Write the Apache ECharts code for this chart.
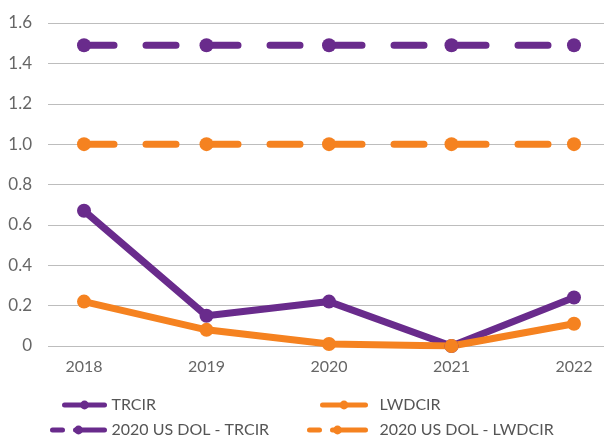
<!DOCTYPE html>
<html><head><meta charset="utf-8">
<script src="https://cdn.jsdelivr.net/npm/echarts@6/dist/echarts.min.js"></script>
<style>html,body{margin:0;padding:0;background:#fff}#c{width:604px;height:437px}</style>
</head><body><div id="c"></div>
<script>
const categories = [2018, 2019, 2020, 2021, 2022];
const trcir = [0.67, 0.15, 0.22, 0.0, 0.24];
const lwdcir = [0.22, 0.08, 0.01, 0.0, 0.11];
const dolTrcir = [1.49, 1.49, 1.49, 1.49, 1.49];
const dolLwdcir = [1.0, 1.0, 1.0, 1.0, 1.0];
const yTicks = [0, 0.2, 0.4, 0.6, 0.8, 1.0, 1.2, 1.4, 1.6];

const PURPLE = '#692b8c', ORANGE = '#f58220';
const pair = arr => categories.map((c, i) => [c, arr[i]]);
function ser(name, arr, color, dashed) {
  return {
    name, type: 'line', data: pair(arr), symbol: 'circle', symbolSize: 14,
    itemStyle: { color },
    lineStyle: { color, width: 7, cap: 'round', type: dashed ? [30, 32] : 'solid' },
    emphasis: { disabled: true }, animation: false
  };
}
function leg(name, left, top, w, pad, dashed) {
  return {
    orient: 'horizontal', left, top, itemWidth: w, itemHeight: 11, padding: 0,
    data: [{ name, lineStyle: { width: 5, cap: 'round', type: dashed ? [10, 13, 40, 10] : 'solid' } }],
    textStyle: { color: '#555', fontSize: 16, lineHeight: 18, padding: [0, 0, 0, pad] }
  };
}
const chart = echarts.init(document.getElementById('c'));
chart.setOption({
  animation: false,
  textStyle: { fontFamily: 'Lato' },
  grid: { left: 48, right: 0, top: 23, bottom: 91 },
  xAxis: {
    type: 'value', min: 2017.706, max: 2022.245,
    axisLine: { show: false }, axisTick: { show: false }, splitLine: { show: false },
    axisLabel: { customValues: categories, formatter: v => String(v), color: '#666', fontSize: 16, margin: 13 }
  },
  yAxis: {
    type: 'value', min: 0, max: 1.6, interval: 0.2,
    axisLine: { show: false }, axisTick: { show: false },
    splitLine: { lineStyle: { color: '#bdbdbd', width: 1 } },
    axisLabel: { color: '#666', fontSize: 17, margin: 16,
      formatter: v => { const t = yTicks.find(x => Math.abs(x - v) < 1e-6); return t === 0 ? '0' : (t !== undefined ? t.toFixed(1) : ''); } }
  },
  legend: [
    leg('TRCIR', 62, 396, 40, 2, false),
    leg('2020 US DOL - TRCIR', 50, 421, 52, 2, true),
    leg('LWDCIR', 320, 396, 43, 9, false),
    leg('2020 US DOL - LWDCIR', 307, 421, 56, 9, true)
  ],
  series: [
    ser('TRCIR', trcir, PURPLE, false),
    ser('LWDCIR', lwdcir, ORANGE, false),
    ser('2020 US DOL - TRCIR', dolTrcir, PURPLE, true),
    ser('2020 US DOL - LWDCIR', dolLwdcir, ORANGE, true)
  ]
});
</script></body></html>
